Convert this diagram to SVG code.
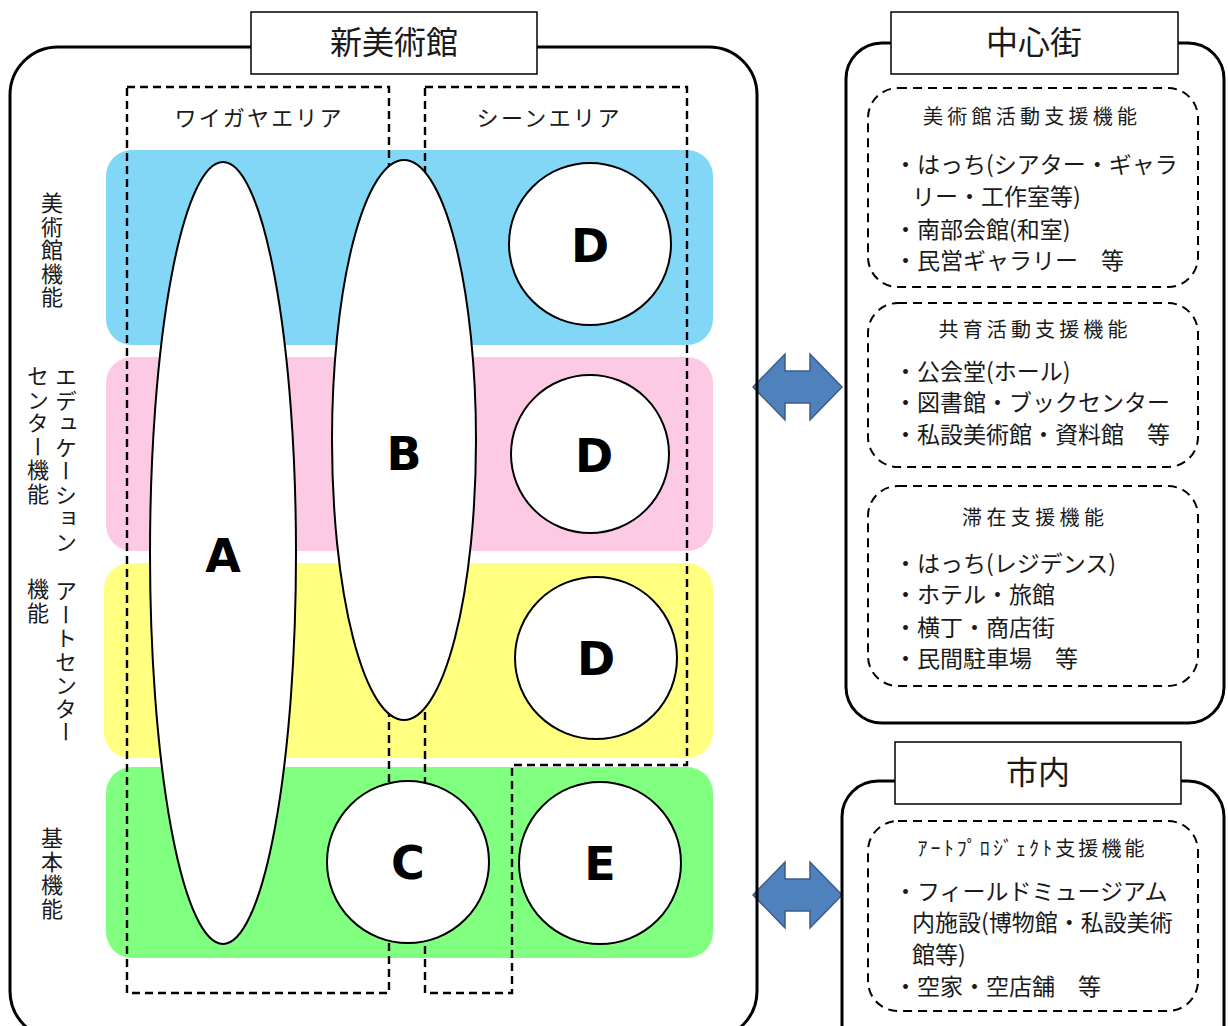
<svg xmlns="http://www.w3.org/2000/svg" width="1228" height="1026" viewBox="0 0 1228 1026">
<style>
.t{font-family:"Noto Sans CJK JP","Noto Sans",sans-serif;fill:#1a1a1a}
.big{font-size:32px;text-anchor:middle}
.area{font-size:22px;text-anchor:middle}
.vl{font-size:22px;writing-mode:vertical-rl;letter-spacing:1.5px}
.ttl{font-size:20px;text-anchor:middle}
.it{font-size:23px}
.let{font-family:"DejaVu Sans",Verdana,sans-serif;font-weight:bold;font-size:46px;text-anchor:middle;fill:#000}
.dash{fill:none;stroke:#000;stroke-width:2.4;stroke-dasharray:8 5}
.rdash{fill:none;stroke:#000;stroke-width:2;stroke-dasharray:9 6}
.shape{fill:#fff;stroke:#000;stroke-width:2}
.frame{fill:none;stroke:#000;stroke-width:3}
.tbox{fill:#fff;stroke:#000;stroke-width:1.5}
.arr{fill:#4F81BD;stroke:#385D8A;stroke-width:1.5}
</style>

<g id="connectors">
<polygon class="arr" points="753,387 785,354 785,371 810,371 810,354 842,387 810,420 810,403 785,403 785,420"/>
<polygon class="arr" points="753,895 785,862 785,879 810,879 810,862 842,895 810,928 810,911 785,911 785,928"/>
</g>

<g id="bands">
<rect x="106" y="150" width="607" height="195" rx="26" fill="#82D7F7"/>
<rect x="106" y="357" width="607" height="194" rx="26" fill="#FDCAE6"/>
<rect x="104" y="563" width="609" height="195" rx="26" fill="#FFFF80"/>
<rect x="106" y="767" width="607" height="191" rx="26" fill="#80FF80"/>
</g>

<g id="areas">
<rect class="dash" x="127" y="87" width="262" height="906"/>
<polygon class="dash" points="425,87 687,87 687,765 512,765 512,993 425,993"/>
<text class="t area" x="258" y="126" textLength="167">ワイガヤエリア</text>
<text class="t area" x="548" y="126" textLength="143">シーンエリア</text>
</g>

<g id="nodeA"><ellipse class="shape" cx="223" cy="553" rx="73" ry="391"/><text class="let" x="223" y="572">A</text></g>
<g id="nodeB"><ellipse class="shape" cx="404" cy="440" rx="72" ry="280"/><text class="let" x="404" y="470">B</text></g>
<g id="nodeD1"><circle class="shape" cx="590" cy="244" r="81"/><text class="let" x="590" y="262">D</text></g>
<g id="nodeD2"><circle class="shape" cx="590" cy="454" r="79"/><text class="let" x="594" y="472">D</text></g>
<g id="nodeD3"><circle class="shape" cx="596" cy="658" r="81"/><text class="let" x="596" y="675">D</text></g>
<g id="nodeC"><circle class="shape" cx="408" cy="862" r="81"/><text class="let" x="408" y="879">C</text></g>
<g id="nodeE"><circle class="shape" cx="600" cy="863" r="81"/><text class="let" x="600" y="880">E</text></g>

<g id="rowLabels">
<text class="t vl" x="52" y="192">美術館機能</text>
<text class="t vl" x="66" y="366">エデュケーション</text>
<text class="t vl" x="38" y="365">センター機能</text>
<text class="t vl" x="66" y="580">アートセンター</text>
<text class="t vl" x="38" y="578">機能</text>
<text class="t vl" x="52" y="827">基本機能</text>
</g>

<g id="museum">
<rect class="frame" x="10" y="47" width="747" height="992" rx="48"/>
<rect class="tbox" x="251" y="12" width="286" height="62"/>
<text class="t big" x="394" y="54">新美術館</text>
</g>

<g id="center">
<rect class="frame" x="846" y="43" width="378" height="680" rx="36"/>
<rect class="tbox" x="891" y="12" width="287" height="62"/>
<text class="t big" x="1034" y="54">中心街</text>
</g>

<g id="box1">
<rect class="rdash" x="868" y="88" width="330" height="199" rx="30"/>
<text class="t ttl" x="1030" y="124" textLength="214">美術館活動支援機能</text>
<text class="t it" x="894" y="173">・はっち(シアター・ギャラ</text>
<text class="t it" x="912" y="205">リー・工作室等)</text>
<text class="t it" x="894" y="238">・南部会館(和室)</text>
<text class="t it" x="894" y="269">・民営ギャラリー　等</text>
</g>

<g id="box2">
<rect class="rdash" x="868" y="303" width="330" height="164" rx="30"/>
<text class="t ttl" x="1033" y="337" textLength="189">共育活動支援機能</text>
<text class="t it" x="894" y="380">・公会堂(ホール)</text>
<text class="t it" x="894" y="411">・図書館・ブックセンター</text>
<text class="t it" x="894" y="443">・私設美術館・資料館　等</text>
</g>

<g id="box3">
<rect class="rdash" x="868" y="486" width="330" height="200" rx="30"/>
<text class="t ttl" x="1033" y="525" textLength="142">滞在支援機能</text>
<text class="t it" x="894" y="572">・はっち(レジデンス)</text>
<text class="t it" x="894" y="603">・ホテル・旅館</text>
<text class="t it" x="894" y="636">・横丁・商店街</text>
<text class="t it" x="894" y="667">・民間駐車場　等</text>
</g>

<g id="city">
<rect class="frame" x="842" y="781" width="382" height="300" rx="36"/>
<rect class="tbox" x="895" y="742" width="286" height="62"/>
<text class="t big" x="1038" y="784">市内</text>
</g>

<g id="box4">
<rect class="rdash" x="868" y="821" width="330" height="190" rx="30"/>
<text class="t ttl" x="1031" y="856" textLength="227">ｱｰﾄﾌﾟﾛｼﾞｪｸﾄ支援機能</text>
<text class="t it" x="894" y="900">・フィールドミュージアム</text>
<text class="t it" x="912" y="931">内施設(博物館・私設美術</text>
<text class="t it" x="912" y="963">館等)</text>
<text class="t it" x="894" y="995">・空家・空店舗　等</text>
</g>
</svg>
